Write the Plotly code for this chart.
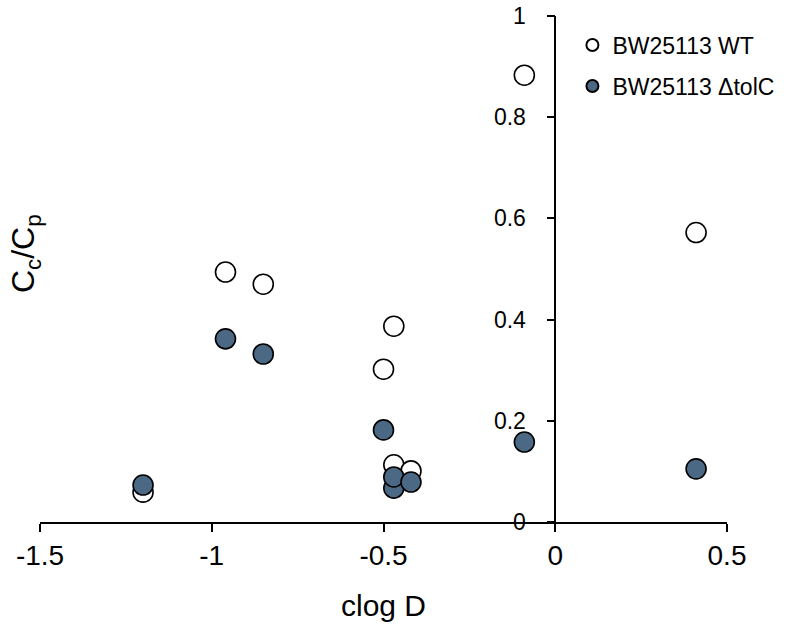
import plotly.graph_objects as go

# Data
wt_x = [-1.20, -0.96, -0.85, -0.50, -0.47, -0.47, -0.42, -0.09, 0.41]
wt_y = [0.059, 0.494, 0.470, 0.302, 0.387, 0.113, 0.101, 0.883, 0.572]

tolc_x = [-1.20, -0.96, -0.85, -0.50, -0.47, -0.47, -0.42, -0.09, 0.41]
tolc_y = [0.073, 0.362, 0.332, 0.182, 0.067, 0.089, 0.079, 0.158, 0.105]

series_names = ["BW25113 WT", "BW25113 \u0394tolC"]
x_ticks = [-1.5, -1, -0.5, 0, 0.5]
x_tick_labels = ["-1.5", "-1", "-0.5", "0", "0.5"]
y_ticks = [0, 0.2, 0.4, 0.6, 0.8, 1]
y_tick_labels = ["0", "0.2", "0.4", "0.6", "0.8", "1"]

FONT = "Arial, Liberation Sans, sans-serif"
FILL = "#4b6984"

fig = go.Figure()
fig.add_trace(go.Scatter(
    x=wt_x, y=wt_y, mode="markers", name=series_names[0],
    legendgroup="a",
    marker=dict(size=20, color="white", line=dict(color="black", width=1.6)),
))
fig.add_trace(go.Scatter(
    x=tolc_x, y=tolc_y, mode="markers", name=series_names[1],
    legendgroup="b",
    marker=dict(size=20, color=FILL, line=dict(color="black", width=1.6)),
))

fig.update_layout(
    width=792, height=634,
    margin=dict(l=40, r=65, t=16, b=112, autoexpand=False),
    plot_bgcolor="white", paper_bgcolor="white",
    font=dict(family=FONT, color="black"),
    showlegend=True,
    legend=dict(
        x=0.775, y=0.985, xanchor="left", yanchor="top",
        font=dict(size=23, family=FONT, color="black"),
        itemsizing="constant", tracegroupgap=8,
        bgcolor="rgba(0,0,0,0)", itemwidth=30,
    ),
    xaxis=dict(
        range=[-1.5, 0.5], tickvals=x_ticks, ticktext=x_tick_labels,
        showgrid=False, zeroline=False, showline=True, automargin=False,
        linecolor="black", linewidth=1.5,
        ticks="outside", ticklen=8, tickwidth=1.5, tickcolor="black",
        tickfont=dict(size=28, family=FONT), ticklabeloverflow="allow",
        title=dict(text="clog D", font=dict(size=30, family=FONT), standoff=25),
    ),
    yaxis=dict(
        range=[0, 1], tickvals=y_ticks, ticktext=y_tick_labels,
        showgrid=False, zeroline=False, showline=True, automargin=False,
        linecolor="black", linewidth=1.5,
        ticks="outside", ticklen=8, tickwidth=1.5, tickcolor="black",
        tickfont=dict(size=23, family=FONT), ticklabelstandoff=16,
        ticklabeloverflow="allow",
        anchor="free", position=0.75,
    ),
)

fig.add_annotation(
    text="C<sub>c</sub>/C<sub>p</sub>", xref="paper", yref="paper",
    x=-0.02, y=0.53, showarrow=False, textangle=-90,
    font=dict(size=32, family=FONT, color="black"),
    xanchor="center", yanchor="middle",
)

fig.write_html("out.html", config={"displayModeBar": False},
               post_script="document.body.style.margin='0px';")
